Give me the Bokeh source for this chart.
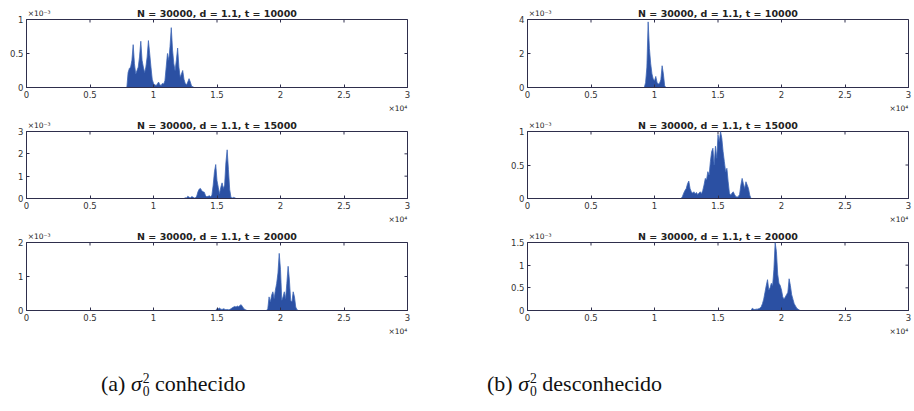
import math
from bokeh.plotting import figure
from bokeh.models import Range1d, FixedTicker, LinearAxis, Div
from bokeh.layouts import column, row
from bokeh.embed import file_html
from bokeh.resources import INLINE

# ---------------- data ----------------
BIN = 100  # bin width of the histograms
X_TICKS = [0, 5000, 10000, 15000, 20000, 25000, 30000]
X_TICK_LABELS = ["0", "0.5", "1", "1.5", "2", "2.5", "3"]
TITLES = ["N = 30000, d = 1.1, t = 10000",
          "N = 30000, d = 1.1, t = 15000",
          "N = 30000, d = 1.1, t = 20000"]
Y_EXP = "\u00d710\u207b\u00b3"
X_EXP = "\u00d710\u2074"
CAPTION_A = "conhecido"
CAPTION_B = "desconhecido"

# (a) sigma_0^2 known  -- values in units of 1e-3
a10_start = 7900
a10 = [0.0, 0.22, 0.28, 0.30, 0.40, 0.63, 0.35, 0.20, 0.25, 0.30, 0.45, 0.68,
       0.40, 0.30, 0.22, 0.30, 0.45, 0.69, 0.50, 0.30, 0.12, 0.06, 0.04, 0.03,
       0.05, 0.08, 0.04, 0.03, 0.06, 0.05, 0.10, 0.30, 0.50, 0.40, 0.60, 0.88,
       0.55, 0.35, 0.25, 0.40, 0.58, 0.30, 0.15, 0.20, 0.25, 0.12, 0.06, 0.04,
       0.08, 0.13, 0.08, 0.02, 0.01, 0.0]
a15_start = 12400
a15 = [0.0, 0.03, 0.02, 0.10, 0.06, 0.03, 0.08, 0.07, 0.02, 0.03, 0.10, 0.30,
       0.42, 0.45, 0.35, 0.30, 0.28, 0.12, 0.08, 0.10, 0.12, 0.08, 0.15, 0.60,
       1.20, 1.52, 0.80, 0.50, 0.20, 0.50, 0.70, 0.45, 0.60, 1.60, 2.18, 1.30,
       0.40, 0.05, 0.02, 0.05, 0.03, 0.0]
a20_start = 14900
a20 = [0.0, 0.06, 0.05, 0.07, 0.04, 0.03, 0.05, 0.04, 0.02, 0.03, 0.02, 0.03,
       0.05, 0.08, 0.10, 0.12, 0.10, 0.13, 0.11, 0.15, 0.17, 0.12, 0.06, 0.03,
       0.01, 0.0, 0.0, 0.0, 0.0, 0.0, 0.0, 0.0, 0.0, 0.0, 0.0, 0.0, 0.0, 0.0,
       0.0, 0.0, 0.0, 0.05, 0.40, 0.25, 0.45, 0.55, 0.35, 0.60, 0.80, 1.10,
       1.68, 1.20, 0.30, 0.40, 0.55, 0.35, 0.80, 1.30, 0.90, 0.30, 0.25, 0.55,
       0.40, 0.10, 0.02, 0.0]

# (b) sigma_0^2 unknown -- values in units of 1e-3
b10_start = 9200
b10 = [0.0, 0.30, 1.20, 3.86, 2.30, 1.40, 0.80, 0.50, 0.40, 0.65, 0.30, 0.20,
       0.25, 0.45, 1.28, 0.80, 0.10, 0.0]
b15_start = 12100
b15 = [0.0, 0.03, 0.08, 0.12, 0.15, 0.22, 0.26, 0.15, 0.10, 0.08, 0.10, 0.07,
       0.09, 0.06, 0.08, 0.10, 0.07, 0.12, 0.20, 0.30, 0.28, 0.40, 0.35, 0.55,
       0.70, 0.75, 0.50, 0.78, 0.60, 0.95, 0.85, 1.00, 0.90, 0.70, 0.55, 0.40,
       0.45, 0.25, 0.08, 0.05, 0.08, 0.10, 0.06, 0.03, 0.02, 0.03, 0.06, 0.20,
       0.30, 0.22, 0.15, 0.25, 0.20, 0.15, 0.05, 0.0]
b20_start = 17600
b20 = [0.0, 0.05, 0.03, 0.02, 0.03, 0.03, 0.04, 0.05, 0.08, 0.15, 0.25, 0.40,
       0.55, 0.68, 0.45, 0.50, 0.60, 0.55, 0.90, 1.50, 1.30, 0.80, 0.60, 0.55,
       0.45, 0.30, 0.25, 0.30, 0.35, 0.40, 0.70, 0.55, 0.35, 0.25, 0.15, 0.10,
       0.05, 0.03, 0.01, 0.0]

# y axis: max and ticks (units of 1e-3)
a_ymax = [1, 3, 2]
a_yticks = [[0, 0.5, 1], [0, 1, 2, 3], [0, 1, 2]]
b_ymax = [4, 1, 1.5]
b_yticks = [[0, 2, 4], [0, 0.5, 1], [0, 0.5, 1, 1.5]]

# ---------------- style ----------------
BLUE = "#2B50A3"
EDGE = "#3F67B6"
AX = "#2e2e4c"
TXT = "#333333"
FONT = "DejaVu Sans"
Y_EXP_AT = 1000     # where the y-exponent note sits along the top edge
X_EXP_AT = 29250    # where the x-exponent note sits below the axis
TITLE_AT = 15000


def fmt(v):
    return ("%g" % v)


def text_axis(at, text, size, style, standoff):
    ax = LinearAxis(ticker=FixedTicker(ticks=[at]))
    ax.major_label_overrides = {at: text}
    ax.axis_line_color = None
    ax.major_tick_line_color = None
    ax.minor_tick_line_color = None
    ax.major_tick_in = 0
    ax.major_tick_out = 0
    ax.major_label_text_font = FONT
    ax.major_label_text_font_size = size
    ax.major_label_text_font_style = style
    ax.major_label_text_color = "#222222"
    ax.major_label_standoff = standoff
    return ax


def panel(title, start, vals, ymax, yticks, width, height, bl, br, bt, bb):
    xs = [start + BIN * i for i in range(len(vals))]
    p = figure(width=width, height=height, output_backend="svg",
               toolbar_location=None,
               x_range=Range1d(0, 30000), y_range=Range1d(0, ymax),
               min_border_left=bl, min_border_right=br,
               min_border_top=bt, min_border_bottom=bb)
    p.xgrid.grid_line_color = None
    p.ygrid.grid_line_color = None
    p.outline_line_color = AX
    p.outline_line_alpha = 1.0
    p.outline_line_width = 1

    p.varea(x=xs, y1=[0] * len(xs), y2=vals, fill_color=BLUE)
    p.line(x=xs, y=vals, line_color=EDGE, line_width=0.8)

    # mirrored inward ticks on the top and right edges (clipped to the frame)
    p.scatter(x=X_TICKS, y=[ymax] * len(X_TICKS), marker="dash", angle=math.pi / 2,
              size=6, line_color=AX, line_width=1)
    p.scatter(x=[30000] * len(yticks), y=yticks, marker="dash",
              size=6, line_color=AX, line_width=1)

    p.xaxis.ticker = FixedTicker(ticks=X_TICKS)
    p.xaxis.major_label_overrides = {t: l for t, l in zip(X_TICKS, X_TICK_LABELS)}
    p.yaxis.ticker = FixedTicker(ticks=yticks)
    p.yaxis.major_label_overrides = {t: fmt(t) for t in yticks}
    for ax in (p.xaxis[0], p.yaxis[0]):
        ax.major_tick_in = 3
        ax.major_tick_out = 0
        ax.minor_tick_line_color = None
        ax.axis_line_color = AX
        ax.axis_line_width = 1
        ax.major_tick_line_color = AX
        ax.major_label_text_font = FONT
        ax.major_label_text_font_size = "8.5px"
        ax.major_label_text_color = TXT
        ax.major_label_standoff = 3

    # exponent notes and title, drawn as label-only axes around the frame
    p.add_layout(text_axis(Y_EXP_AT, Y_EXP, "7.5px", "normal", 2), "above")
    p.add_layout(text_axis(TITLE_AT, title, "9.5px", "bold", -13), "above")
    p.add_layout(text_axis(X_EXP_AT, X_EXP, "7.5px", "normal", 3), "below")
    return p


left_w, right_w = 498, 414
heights = [116, 111, 112]
tops = [19, 15, 15]
bottom_b = 29

a_data = [(a10_start, a10), (a15_start, a15), (a20_start, a20)]
b_data = [(b10_start, b10), (b15_start, b15), (b20_start, b20)]

rows = []
for i in range(3):
    pa = panel(TITLES[i], a_data[i][0], a_data[i][1], a_ymax[i], a_yticks[i],
               left_w, heights[i], 26, 91, tops[i], bottom_b)
    pb = panel(TITLES[i], b_data[i][0], b_data[i][1], b_ymax[i], b_yticks[i],
               right_w, heights[i], 29, 4, tops[i], bottom_b)
    rows.append(row(pa, pb))

sig = ('<span style="font-style:italic">\u03c3</span>'
       '<span style="display:inline-block;vertical-align:-0.38em;line-height:0.95;'
       'font-size:62%;margin-left:1px;text-align:left">2<br>0</span>')
cap_style = ('position:absolute;top:29px;white-space:nowrap;font-family:\'Liberation Serif\',serif;'
             'font-size:22px;color:#111;line-height:1')
html = ('<div style="position:relative;width:912px;height:62px">'
        f'<span style="{cap_style};left:96px">(a) {sig} {CAPTION_A}</span>'
        f'<span style="{cap_style};left:482px">(b) {sig} {CAPTION_B}</span>'
        '</div>')
caption = Div(text=html, width=912, height=62)

layout = column(*rows, caption)
open("out.html", "w").write(file_html(layout, INLINE))
